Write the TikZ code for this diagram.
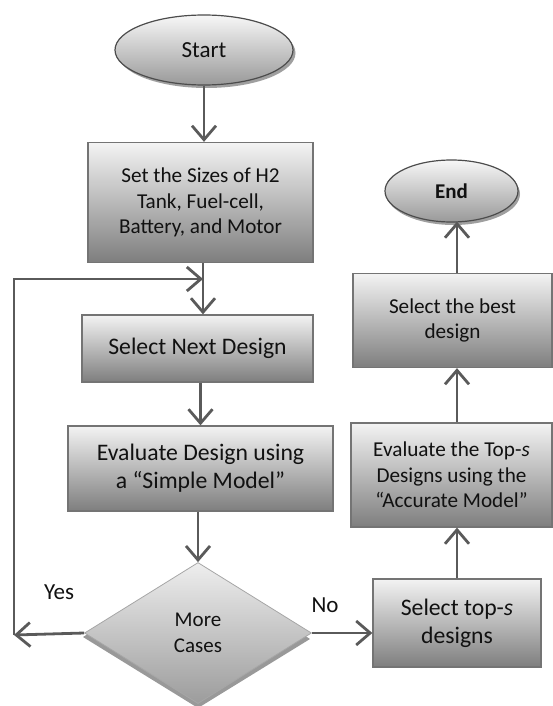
\documentclass[tikz,border=0pt]{standalone}
\usepackage{fontspec}
\setmainfont{Carlito}
\usetikzlibrary{arrows.meta,shapes.geometric,calc}
\definecolor{linec}{HTML}{5A5A5A}
\definecolor{boxborder}{HTML}{747474}
\definecolor{shtop}{HTML}{F3F3F3}
\definecolor{shbot}{HTML}{7E7E7E}
\definecolor{eltop}{HTML}{F7F7F7}
\definecolor{elbot}{HTML}{999999}
\definecolor{ditop}{HTML}{EEEEEE}
\definecolor{dibot}{HTML}{9C9C9C}
\definecolor{txt}{HTML}{111111}
\tikzset{
  procbox/.style={rectangle, draw=boxborder, line width=1.3pt, top color=shtop, bottom color=shbot, text=txt, align=center, inner sep=0pt},
  termel/.style={ellipse, draw=linec!85!black, line width=1.2pt, top color=eltop, bottom color=elbot, text=txt, inner sep=0pt},
  decdia/.style={diamond, draw=gray!70, line width=0.8pt, top color=ditop, bottom color=dibot, text=txt, align=center, inner sep=0pt, aspect=1.6},
  arr/.style={draw=linec, line width=2.8pt, -{Straight Barb[length=14pt,width=24pt,line width=2.8pt]}},
  plain/.style={draw=linec, line width=2.8pt},
  lbl/.style={text=txt, inner sep=0pt},
  big/.style={font=\fontsize{23.7}{28}\selectfont},
  small/.style={font=\fontsize{21.2}{25.3}\selectfont},
}
\begin{document}
\begin{tikzpicture}[x=1pt,y=-1pt]
\useasboundingbox (0,0) rectangle (553,706);
% shadows
\fill[gray!75] (206.5,53) ellipse [x radius=89pt, y radius=35pt];
\fill[gray!75] (453.5,194) ellipse [x radius=66.5pt, y radius=31pt];
\fill[gray!80] (83,637) -- (198,566) -- (310,639) -- (198,708) -- cycle;
% nodes
\node[termel, minimum width=178pt, minimum height=70pt, font=\fontsize{23}{27}\selectfont] (start) at (204,50) {Start};
\node[procbox, small, minimum width=225pt, minimum height=120pt] (b1) at (200.5,202.5) {Set the Sizes of H2\\Tank, Fuel-cell,\\Battery, and Motor};
\node[procbox, big, minimum width=231pt, minimum height=67pt] (b2) at (197.5,348.5) {Select Next Design};
\node[procbox, big, minimum width=265pt, minimum height=85pt] (b3) at (200.5,468.5) {Evaluate Design using\\a “Simple Model”};
\node[decdia, font=\fontsize{21}{26}\selectfont, minimum width=227pt, minimum height=141pt] (dia) at (198,633) {More\\Cases};
\node[procbox, big, minimum width=168pt, minimum height=88pt] (b4) at (457,623) {Select top-\textit{s}\\designs};
\node[procbox, small, minimum width=201pt, minimum height=104pt] (b5) at (451.5,475) {Evaluate the Top-\textit{s}\\Designs using the\\“Accurate Model”};
\node[procbox, small, minimum width=199pt, minimum height=94pt] (b6) at (452.5,320.5) {Select the best\\design};
\node[termel, minimum width=133pt, minimum height=62pt, font=\bfseries\fontsize{21}{25}\selectfont] (end) at (451.5,191) {End};
\node[lbl, font=\fontsize{23}{27}\selectfont] (yes) at (59,592) {Yes};
\node[lbl, font=\fontsize{23}{27}\selectfont] (no) at (325,605) {No};
% helper coordinates
\coordinate (merge) at (203,279);
\coordinate (loopend) at (14,635);
% connectors
\draw[arr] (start.south) -- (start.south |- b1.north);
\draw[plain] (b1.south -| merge) -- (merge);
\draw[arr] (merge) -- (b2.north -| merge);
\draw[arr] (b2.south -| b3.north) -- (b3.north);
\draw[arr] (b3.south -| dia.north) -- (dia.north);
\draw[arr] (dia.west) -- (loopend);
\draw[arr] (loopend) -- (loopend |- merge) -- (merge);
\draw[arr] (dia.east) -- (dia.east -| b4.west);
\draw[arr] (b4.north) -- (b4.north |- b5.south);
\draw[arr] (b5.north -| b4.north) -- (b4.north |- b6.south);
\draw[arr] (b6.north -| b4.north) -- ($(b4.north |- end.south)+(0,-1)$);
\end{tikzpicture}
\end{document}
